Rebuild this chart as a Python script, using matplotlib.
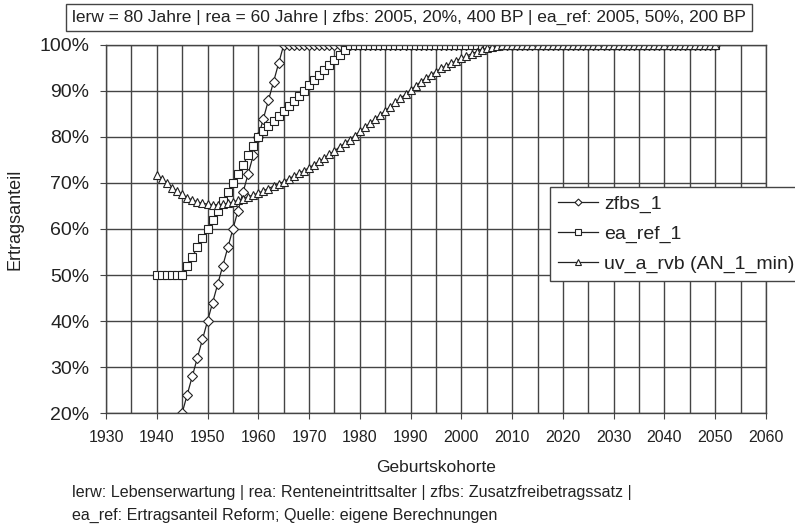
import numpy as np
import matplotlib.pyplot as plt
from matplotlib.ticker import MultipleLocator, FuncFormatter

plt.rcParams['font.family'] = ['Liberation Sans', 'DejaVu Sans']

# zfbs_1: Geburtskohorten 1945-2050
zfbs_years = list(range(1945, 2051))
zfbs_1 = [20, 24, 28, 32, 36, 40, 44, 48, 52, 56,
          60, 64, 68, 72, 76, 80, 84, 88, 92, 96,
          100, 100, 100, 100, 100, 100, 100, 100, 100, 100,
          100, 100, 100, 100, 100, 100, 100, 100, 100, 100,
          100, 100, 100, 100, 100, 100, 100, 100, 100, 100,
          100, 100, 100, 100, 100, 100, 100, 100, 100, 100,
          100, 100, 100, 100, 100, 100, 100, 100, 100, 100,
          100, 100, 100, 100, 100, 100, 100, 100, 100, 100,
          100, 100, 100, 100, 100, 100, 100, 100, 100, 100,
          100, 100, 100, 100, 100, 100, 100, 100, 100, 100,
          100, 100, 100, 100, 100, 100]

# ea_ref_1: Geburtskohorten 1940-2050
ea_years = list(range(1940, 2051))
ea_ref_1 = [50, 50, 50, 50, 50, 50, 52, 54, 56, 58,
            60, 62, 64, 66, 68, 70, 72, 74, 76, 78,
            80, 81.2, 82.4, 83.5, 84.6, 85.7, 86.8, 87.9, 89.0, 90.1,
            91.2, 92.3, 93.4, 94.5, 95.6, 96.7, 97.8, 98.9, 100, 100,
            100, 100, 100, 100, 100, 100, 100, 100, 100, 100,
            100, 100, 100, 100, 100, 100, 100, 100, 100, 100,
            100, 100, 100, 100, 100, 100, 100, 100, 100, 100,
            100, 100, 100, 100, 100, 100, 100, 100, 100, 100,
            100, 100, 100, 100, 100, 100, 100, 100, 100, 100,
            100, 100, 100, 100, 100, 100, 100, 100, 100, 100,
            100, 100, 100, 100, 100, 100, 100, 100, 100, 100,
            100]

# uv_a_rvb (AN_1_min): Geburtskohorten 1940-2050
uv_years = list(range(1940, 2051))
uv_a_rvb = [71.7, 70.8, 69.9, 69.0, 68.2, 67.5, 66.8, 66.3, 65.9, 65.6,
            65.4, 65.3, 65.3, 65.4, 65.6, 65.9, 66.2, 66.6, 67.0, 67.4,
            67.8, 68.3, 68.8, 69.3, 69.8, 70.3, 70.9, 71.5, 72.1, 72.7,
            73.3, 74.0, 74.7, 75.4, 76.2, 77.0, 77.8, 78.6, 79.4, 80.3,
            81.2, 82.1, 83.0, 83.9, 84.8, 85.7, 86.6, 87.5, 88.4, 89.3,
            90.2, 91.1, 92.0, 92.8, 93.5, 94.2, 94.9, 95.5, 96.0, 96.6,
            97.1, 97.6, 98.1, 98.5, 98.9, 99.3, 99.6, 99.8, 100, 100,
            100, 100, 100, 100, 100, 100, 100, 100, 100, 100,
            100, 100, 100, 100, 100, 100, 100, 100, 100, 100,
            100, 100, 100, 100, 100, 100, 100, 100, 100, 100,
            100, 100, 100, 100, 100, 100, 100, 100, 100, 100,
            100]

x_ticks = list(range(1930, 2061, 10))
ink = '#222222'
grid_col = '#444444'

fig = plt.figure(figsize=(7.95, 5.29), dpi=100)
ax = fig.add_axes([106 / 795, 1 - 413 / 529, 660 / 795, 368 / 529])

common = dict(color=ink, lw=0.9, markerfacecolor='white', markeredgecolor=ink,
              markeredgewidth=0.8)
ax.plot(zfbs_years, zfbs_1, marker='D', ms=5, label='zfbs_1', **common)
ax.plot(ea_years, ea_ref_1, marker='s', ms=5.5, label='ea_ref_1', **common)
ax.plot(uv_years, uv_a_rvb, marker='^', ms=6, label='uv_a_rvb (AN_1_min)', **common)

ax.set_xlim(1930, 2060)
ax.set_ylim(20, 100)
ax.set_xticks(x_ticks)
ax.xaxis.set_minor_locator(MultipleLocator(5))
ax.yaxis.set_major_locator(MultipleLocator(10))
ax.yaxis.set_major_formatter(FuncFormatter(lambda v, p: f'{v:.0f}%'))
ax.grid(True, which='both', axis='x', color=grid_col, lw=1.0)
ax.grid(True, which='major', axis='y', color=grid_col, lw=1.0)
ax.set_axisbelow(True)
for s in ax.spines.values():
    s.set_color(grid_col)
    s.set_linewidth(1.0)
ax.tick_params(axis='both', which='major', direction='out', length=4,
               color=grid_col, labelcolor=ink)
ax.tick_params(axis='x', which='minor', length=0)
ax.tick_params(axis='y', labelsize=14, pad=8)
ax.tick_params(axis='x', labelsize=11.5, pad=8)

ax.set_xlabel('Geburtskohorte', fontsize=12.5, color=ink)
ax.set_ylabel('Ertragsanteil', fontsize=13, color=ink)
ax.xaxis.set_label_coords(0.5, -0.128)
ax.yaxis.set_label_coords(-0.125, 0.527)

leg = ax.legend(loc='upper left', bbox_to_anchor=(550 / 795, 1 - 187 / 529),
                bbox_transform=fig.transFigure, fontsize=14, frameon=True,
                fancybox=False, edgecolor=grid_col, framealpha=1,
                borderaxespad=0, handlelength=2.05, handletextpad=0.3,
                labelspacing=0.63, borderpad=0.42, markerscale=0.7)
leg.get_frame().set_linewidth(1.0)
for t in leg.get_texts():
    t.set_color(ink)

fig.text(409 / 795, 1 - 17.5 / 529,
         'lerw = 80 Jahre | rea = 60 Jahre | zfbs: 2005, 20%, 400 BP | ea_ref: 2005, 50%, 200 BP',
         ha='center', va='center', fontsize=12.5, color=ink,
         bbox=dict(boxstyle='square,pad=0.35', facecolor='white',
                   edgecolor=grid_col, lw=1.0))

fig.text(72 / 795, 1 - 492 / 529,
         'lerw: Lebenserwartung | rea: Renteneintrittsalter | zfbs: Zusatzfreibetragssatz |',
         ha='left', va='center', fontsize=11.6, color=ink)
fig.text(72 / 795, 1 - 515 / 529,
         'ea_ref: Ertragsanteil Reform; Quelle: eigene Berechnungen',
         ha='left', va='center', fontsize=11.6, color=ink)

fig.savefig('out.png', dpi=100)
